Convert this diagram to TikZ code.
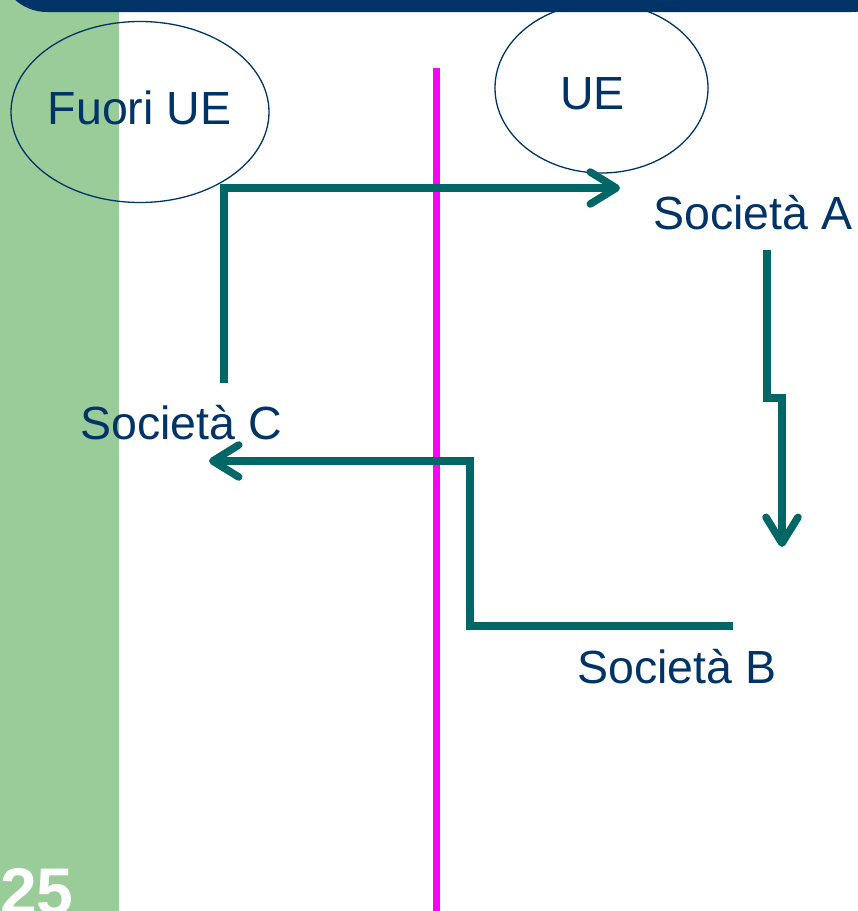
\documentclass[tikz,border=0pt]{standalone}
\usepackage{fontspec}
\setmainfont{Liberation Sans}
\usetikzlibrary{arrows.meta,shapes.geometric}
\definecolor{navy}{HTML}{003366}
\definecolor{leaf}{HTML}{99CC99}
\definecolor{flow}{HTML}{006666}
\definecolor{border}{HTML}{FF00FF}
\begin{document}
\begin{tikzpicture}[x=1pt,y=-1pt,
  region/.style={draw=navy, line width=1.3pt, ellipse, inner sep=0pt},
  firmtext/.style={text=navy, font=\fontsize{46.5}{50}\selectfont, anchor=base, inner sep=0pt},
  flowline/.style={draw=flow, line width=7.5pt, line join=miter,
    -{Straight Barb[length=26pt,width=32pt,round]}}]
  \useasboundingbox (0,0) rectangle (858,911);

  % side strip and title bar
  \fill[leaf] (0,0) rectangle (119,911);
  \fill[navy, rounded corners=48pt] (-1,-120) rectangle (900,12);

  % EU border
  \coordinate (bTop) at (436,68);
  \coordinate (bBot) at (436,911);
  \draw[border, line width=7pt] (bTop) -- (bBot);

  % regions
  \node[region, minimum width=258pt, minimum height=181pt] (outside) at (140,112) {};
  \node[region, minimum width=213pt, minimum height=170pt] (inside) at (601.5,88) {};
  \node[firmtext] (fuori) at (139.5,124) {Fuori UE};
  \node[firmtext] (ue) at (592.5,109) {UE};

  % companies
  \node[firmtext] (socA) at (753,229) {Società A};
  \node[firmtext] (socB) at (677,683) {Società B};
  \node[firmtext] (socC) at (181,439) {Società C};

  % flows
  \coordinate (cOut) at (224,383);
  \coordinate (aIn) at (620,188);
  \draw[flowline] (cOut) |- (aIn);

  \coordinate (aOut) at (767,250);
  \coordinate (bIn) at (782,547);
  \draw[flowline] (aOut) -- (767,398) -- (782,398) -- (bIn);

  \coordinate (bOut) at (733,626);
  \coordinate (cIn) at (209,461);
  \draw[flowline] (bOut) -- (470,626) -- (470,461) -- (cIn);

  % page number
  \node[text=white, font=\bfseries\fontsize{66}{66}\selectfont, anchor=base west, inner sep=0pt] (page) at (0,914) {25};
\end{tikzpicture}
\end{document}
